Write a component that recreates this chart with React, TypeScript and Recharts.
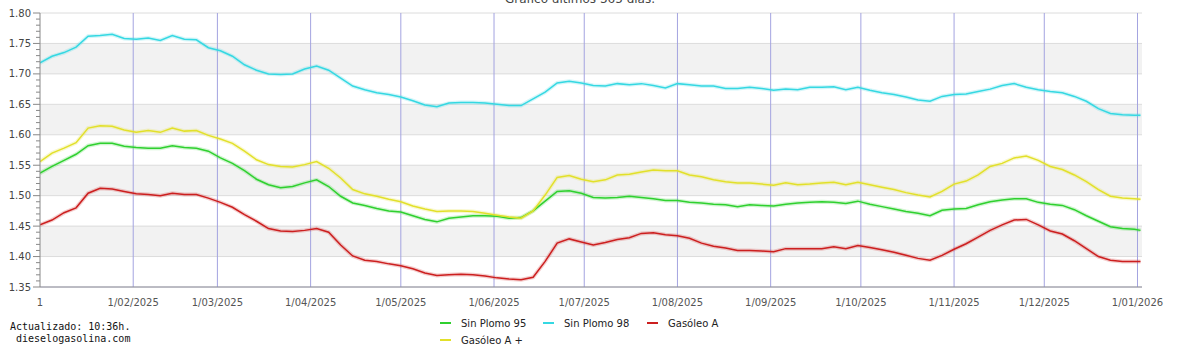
import React from 'react';
import { LineChart, Line, XAxis, YAxis, ReferenceLine, ReferenceArea } from 'recharts';

// day index counted from 1 Jan 2025, one sample every 4 days
const DAYS = [
  0, 4, 8, 12, 16, 20, 24, 28, 32, 36, 40, 44, 48, 52, 56, 60,
  64, 68, 72, 76, 80, 84, 88, 92, 96, 100, 104, 108, 112, 116, 120,
  124, 128, 132, 136, 140, 144, 148, 152, 156, 160, 164, 168, 172, 176, 180,
  184, 188, 192, 196, 200, 204, 208, 212, 216, 220, 224, 228, 232, 236, 240,
  244, 248, 252, 256, 260, 264, 268, 272, 276, 280, 284, 288, 292, 296, 300,
  304, 308, 312, 316, 320, 324, 328, 332, 336, 340, 344, 348, 352, 356, 360, 364, 366,
];

const SIN_PLOMO_98 = [
  1.718, 1.729, 1.735, 1.744, 1.762, 1.763, 1.765, 1.758, 1.757, 1.759, 1.755, 1.763, 1.757, 1.756, 1.743, 1.738,
  1.729, 1.715, 1.706, 1.700, 1.699, 1.700, 1.708, 1.713, 1.706, 1.693, 1.680, 1.674, 1.669, 1.666, 1.662,
  1.656, 1.649, 1.646, 1.652, 1.653, 1.653, 1.652, 1.650, 1.648, 1.648, 1.659, 1.670, 1.685, 1.688, 1.685,
  1.681, 1.680, 1.684, 1.682, 1.684, 1.681, 1.677, 1.684, 1.682, 1.680, 1.680, 1.676, 1.676, 1.678, 1.676,
  1.673, 1.675, 1.674, 1.678, 1.678, 1.679, 1.674, 1.678, 1.673, 1.669, 1.666, 1.662, 1.657, 1.655, 1.663,
  1.666, 1.667, 1.671, 1.675, 1.681, 1.684, 1.678, 1.674, 1.671, 1.669, 1.663, 1.655, 1.643, 1.635, 1.633, 1.632, 1.632,
];

const GASOLEO_A_PLUS = [
  1.556, 1.570, 1.578, 1.587, 1.611, 1.615, 1.614, 1.608, 1.604, 1.607, 1.604, 1.611, 1.606, 1.607, 1.599, 1.593,
  1.586, 1.573, 1.559, 1.551, 1.548, 1.547, 1.551, 1.556, 1.545, 1.529, 1.510, 1.503, 1.499, 1.494, 1.490,
  1.483, 1.478, 1.474, 1.475, 1.475, 1.474, 1.471, 1.468, 1.465, 1.463, 1.475, 1.501, 1.530, 1.533, 1.527,
  1.523, 1.526, 1.534, 1.535, 1.539, 1.542, 1.541, 1.541, 1.534, 1.531, 1.526, 1.523, 1.521, 1.521, 1.519,
  1.517, 1.521, 1.518, 1.519, 1.521, 1.522, 1.518, 1.522, 1.518, 1.514, 1.510, 1.505, 1.501, 1.498, 1.507,
  1.519, 1.524, 1.534, 1.548, 1.553, 1.562, 1.565, 1.558, 1.548, 1.543, 1.534, 1.523, 1.510, 1.499, 1.496, 1.495, 1.494,
];

const SIN_PLOMO_95 = [
  1.537, 1.548, 1.558, 1.568, 1.582, 1.586, 1.586, 1.581, 1.579, 1.578, 1.578, 1.582, 1.579, 1.578, 1.573, 1.562,
  1.553, 1.541, 1.527, 1.518, 1.513, 1.515, 1.521, 1.526, 1.515, 1.499, 1.488, 1.484, 1.479, 1.475, 1.473,
  1.467, 1.461, 1.457, 1.463, 1.465, 1.467, 1.467, 1.466, 1.463, 1.464, 1.475, 1.491, 1.507, 1.508, 1.504,
  1.497, 1.496, 1.497, 1.499, 1.497, 1.495, 1.492, 1.492, 1.489, 1.488, 1.486, 1.485, 1.482, 1.485, 1.484,
  1.483, 1.486, 1.488, 1.489, 1.490, 1.489, 1.487, 1.491, 1.486, 1.482, 1.478, 1.474, 1.471, 1.467, 1.476,
  1.478, 1.479, 1.485, 1.490, 1.493, 1.495, 1.495, 1.489, 1.486, 1.484, 1.477, 1.467, 1.458, 1.449, 1.446, 1.445, 1.443,
];

const GASOLEO_A = [
  1.452, 1.460, 1.472, 1.480, 1.504, 1.512, 1.511, 1.507, 1.503, 1.502, 1.500, 1.504, 1.502, 1.502, 1.496, 1.489,
  1.481, 1.469, 1.458, 1.446, 1.442, 1.441, 1.443, 1.446, 1.440, 1.419, 1.401, 1.394, 1.392, 1.388, 1.385,
  1.380, 1.373, 1.369, 1.370, 1.371, 1.370, 1.368, 1.365, 1.363, 1.362, 1.366, 1.392, 1.422, 1.429, 1.424,
  1.419, 1.423, 1.428, 1.431, 1.438, 1.439, 1.436, 1.434, 1.430, 1.422, 1.417, 1.414, 1.410, 1.410, 1.409,
  1.408, 1.413, 1.413, 1.413, 1.413, 1.416, 1.413, 1.418, 1.415, 1.411, 1.407, 1.402, 1.397, 1.394, 1.402,
  1.412, 1.421, 1.432, 1.443, 1.452, 1.460, 1.461, 1.452, 1.442, 1.437, 1.426, 1.413, 1.400, 1.394, 1.392, 1.392, 1.392,
];

const MONTH_DAYS = [0, 31, 59, 90, 120, 151, 181, 212, 243, 273, 304, 334, 365];
const MONTH_LABELS = [
  '1', '1/02/2025', '1/03/2025', '1/04/2025', '1/05/2025', '1/06/2025', '1/07/2025',
  '1/08/2025', '1/09/2025', '1/10/2025', '1/11/2025', '1/12/2025', '1/01/2026',
];

const Y_LEVELS = [1.35, 1.4, 1.45, 1.5, 1.55, 1.6, 1.65, 1.7, 1.75, 1.8];
const BANDS = [[1.4, 1.45], [1.5, 1.55], [1.6, 1.65], [1.7, 1.75]];

const SERIES = [
  { key: 'sp95', name: 'Sin Plomo 95', color: '#2fd02f' },
  { key: 'sp98', name: 'Sin Plomo 98', color: '#35d8e2' },
  { key: 'ga', name: 'Gasóleo A', color: '#cc1f1f' },
  { key: 'gap', name: 'Gasóleo A +', color: '#e2e02a' },
];

const data = DAYS.map((day, i) => ({
  day,
  sp95: SIN_PLOMO_95[i],
  sp98: SIN_PLOMO_98[i],
  ga: GASOLEO_A[i],
  gap: GASOLEO_A_PLUS[i],
}));

// minor ticks every 0.01
const yTicks = Array.from({ length: 46 }, (_, i) => +(1.35 + i * 0.01).toFixed(2));

const FONT = '"DejaVu Sans", sans-serif';

const YTick = (props: any) => {
  const { x, y, payload } = props;
  const v = payload.value;
  const major = Math.abs(v * 20 - Math.round(v * 20)) < 1e-6;
  return (
    <g>
      <line x1={x - (major ? 7 : 4)} x2={x} y1={y} y2={y} stroke="#888" strokeWidth={1} />
      {major && (
        <text x={x - 9} y={y} dy="0.35em" textAnchor="end" fontSize={10} fill="#444" fontFamily={FONT}>
          {v.toFixed(2)}
        </text>
      )}
    </g>
  );
};

const XTick = (props: any) => {
  const { x, y, payload } = props;
  const idx = MONTH_DAYS.indexOf(payload.value);
  return (
    <text x={x} y={y + 19} textAnchor="middle" fontSize={10} fill="#555" fontFamily={FONT}>
      {MONTH_LABELS[idx]}
    </text>
  );
};

export default function App() {
  const legendRows = [
    [SERIES[0], SERIES[1], SERIES[2]],
    [SERIES[3]],
  ];
  const legendX = [440, 543, 647];

  return (
    <div style={{ position: 'absolute', left: 0, top: 0, width: 1190, height: 358, background: '#fff', overflow: 'hidden' }}>
      <div
        style={{
          position: 'absolute', top: -8, left: 0, width: 1160, textAlign: 'center',
          fontFamily: FONT, fontSize: 12, lineHeight: '14px', color: '#444',
        }}
      >
        Gráfico últimos 365 días.
      </div>
      <LineChart width={1190} height={358} data={data} margin={{ top: 13, right: 48, bottom: 51, left: 0 }}>
        {BANDS.map(([a, b], i) => (
          <ReferenceArea key={`band-${i}`} y1={a} y2={b} fill="#f2f2f2" fillOpacity={1} stroke="none" ifOverflow="hidden" />
        ))}
        {Y_LEVELS.map((v) => (
          <ReferenceLine key={`h-${v}`} y={v} stroke="#dcdcdc" strokeWidth={1} />
        ))}
        {MONTH_DAYS.slice(1).map((d) => (
          <ReferenceLine key={`v-${d}`} x={d} stroke="#a3a3e0" strokeWidth={1} />
        ))}
        <XAxis
          dataKey="day"
          type="number"
          domain={[0, 366.5]}
          ticks={MONTH_DAYS}
          tick={<XTick />}
          tickLine={false}
          tickSize={0}
          tickMargin={0}
          height={20}
          stroke="#8a8a9a"
          allowDataOverflow
        />
        <YAxis
          type="number"
          domain={[1.35, 1.8]}
          ticks={yTicks}
          tick={<YTick />}
          tickLine={false}
          tickSize={0}
          tickMargin={0}
          width={40}
          stroke="#888"
          interval={0}
          allowDataOverflow
        />
        {SERIES.map((s) => (
          <Line
            key={`halo-${s.key}`}
            type="linear"
            dataKey={s.key}
            stroke={s.color}
            strokeOpacity={0.22}
            strokeWidth={4}
            dot={false}
            legendType="none"
            isAnimationActive={false}
          />
        ))}
        {SERIES.map((s) => (
          <Line
            key={s.key}
            type="linear"
            dataKey={s.key}
            name={s.name}
            stroke={s.color}
            strokeWidth={1.5}
            dot={false}
            isAnimationActive={false}
          />
        ))}
      </LineChart>
      {legendRows.map((row, r) =>
        row.map((s, c) => (
          <div
            key={s.key}
            style={{
              position: 'absolute', left: legendX[c], top: 316 + r * 17, height: 14,
              display: 'flex', alignItems: 'center', fontFamily: FONT, fontSize: 10, color: '#222',
            }}
          >
            <span style={{ display: 'inline-block', width: 11, height: 2, background: s.color, marginRight: 10 }} />
            {s.name}
          </div>
        ))
      )}
      <div
        style={{
          position: 'absolute', left: 10, top: 321, fontFamily: '"DejaVu Sans Mono", monospace',
          fontSize: 10, lineHeight: '12px', color: '#111', whiteSpace: 'pre',
        }}
      >
        {'Actualizado: 10:36h.\n dieselogasolina.com'}
      </div>
    </div>
  );
}
